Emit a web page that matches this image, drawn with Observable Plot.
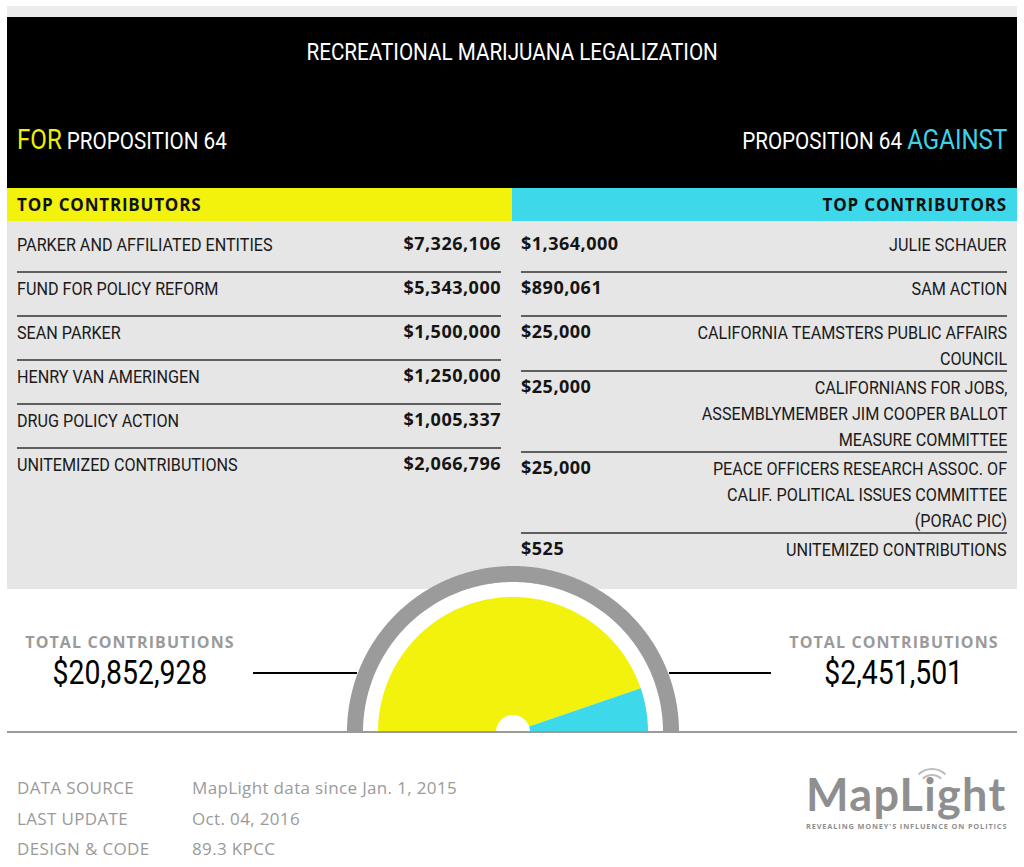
<!DOCTYPE html>
<html>
<head>
<meta charset="utf-8">
<script src="https://cdn.jsdelivr.net/npm/d3@7"></script>
<script src="https://cdn.jsdelivr.net/npm/@observablehq/plot@0.6"></script>
<style>
  html, body { margin: 0; padding: 0; background: #fff; }
  body { width: 1024px; height: 867px; overflow: hidden; position: relative; }
  .cond { font-family: "Roboto", sans-serif; }
  .sq { display: inline-block; transform: scaleX(0.86); white-space: nowrap; }
  .sqL { transform-origin: left center; }
  .sqR { transform-origin: right center; }
  .sqC { transform-origin: center center; }
  .geo { font-family: "Open Sans", "Lato", sans-serif; }
  #wrap { position: absolute; left: 7px; top: 6px; width: 1010px; height: 861px; }
  #strip { height: 11px; background: #ececec; }
  #header { position: relative; height: 171px; background: #000; color: #fff; }
  #title { position: absolute; left: 0; right: 0; top: 20px; line-height: 30px; text-align: center; font-size: 24px; }
  .prop { position: absolute; top: 106px; line-height: 34px; font-size: 24px; white-space: nowrap; }
  .prop .big { font-size: 28px; }
  #forHead { left: 10px; }
  #agHead { right: 10px; }
  #band { display: flex; height: 33px; }
  #band div { line-height: 33px; font-weight: 700; font-size: 17px; letter-spacing: 0.8px; color: #111; box-sizing: border-box; }
  #bandFor { width: 505px; background: #f2f20c; padding-left: 10px; }
  #bandAg { width: 505px; background: #3dd8ea; text-align: right; padding-right: 10px; }
  #tables { position: relative; height: 368px; background: #e6e6e6; display: flex; padding: 6px 10px 0 10px; box-sizing: border-box; }
  #leftT { width: 484px; }
  #rightT { width: 486px; margin-left: 20px; }
  .row { box-sizing: border-box; min-height: 44px; border-top: 2px solid #5e5e5e; padding-top: 1px; display: flex; justify-content: space-between; line-height: 26px; }
  .row:first-child { border-top-color: transparent; }
  .name { font-size: 18.8px; color: #1a1a1a; position: relative; top: 1.5px; }
  .val { font-weight: 700; font-size: 18px; letter-spacing: 0.5px; color: #141414; white-space: nowrap; }
  #rightT .name { text-align: right; }
  #gauge { position: absolute; left: 0; top: 554px; z-index: 2; }
  #baseline { position: absolute; left: 0; top: 725px; width: 1010px; height: 2px; background: #9a9a9a; z-index: 3; }
  .tot { position: absolute; top: 625px; width: 260px; text-align: center; }
  .tot .lab { font-weight: 700; font-size: 16px; color: #9a9a9a; line-height: 22px; letter-spacing: 1.1px; }
  .tot .num { font-size: 33px; color: #000; line-height: 40px; }
  #totFor { left: -7px; }
  #totAg { left: 757px; }
  .conn { position: absolute; top: 666px; height: 2px; background: #000; z-index: 1; }
  #footer { position: absolute; left: 10px; top: 769px; }
  .frow { display: flex; height: 30.5px; line-height: 26px; font-size: 17px; letter-spacing: 0.35px; color: #9a9a9a; }
  .frow .k { width: 175px; }
  #logo { position: absolute; left: 799px; top: 758px; width: 210px; color: #8f8f8f; }
  #logo .word { font-family: "Lato", "Open Sans", sans-serif; font-weight: 700; font-size: 45px; line-height: 60px; letter-spacing: 1.3px; }
  #logo .tag { font-family: "Open Sans", sans-serif; font-weight: 700; font-size: 7.4px; letter-spacing: 0.85px; line-height: 10px; white-space: nowrap; margin-top: -3px; }
  .wifi { position: absolute; border: 2.5px solid #bdbdbd; border-radius: 50%; border-bottom-color: transparent; border-left-color: transparent; border-right-color: transparent; }
</style>
</head>
<body>
<div id="wrap">
  <div id="strip"></div>
  <div id="header" class="cond">
    <div id="title"></div>
    <div id="forHead" class="prop"></div>
    <div id="agHead" class="prop"></div>
  </div>
  <div id="band" class="geo"><div id="bandFor"></div><div id="bandAg"></div></div>
  <div id="tables">
    <div id="leftT"></div>
    <div id="rightT"></div>
  </div>
  <div id="gauge"></div>
  <div id="baseline"></div>
  <div class="conn" style="left:246px;width:104px"></div>
  <div class="conn" style="left:662px;width:102px"></div>
  <div id="totFor" class="tot"><div class="lab geo"></div><div class="num cond"></div></div>
  <div id="totAg" class="tot"><div class="lab geo"></div><div class="num cond"></div></div>
  <div id="footer" class="geo"></div>
  <div id="logo">
    <div class="wifi" style="left:112px;top:10px;width:24px;height:24px"></div>
    <div class="wifi" style="left:106px;top:4px;width:36px;height:36px"></div>
    <div class="word">MapLight</div>
    <div class="tag">REVEALING MONEY'S INFLUENCE ON POLITICS</div>
  </div>
</div>
<script>
// ---- data ----
const titleText = "RECREATIONAL MARIJUANA LEGALIZATION";
const sides = ["FOR", "AGAINST"];
const propLabel = "PROPOSITION 64";
const bandLabel = "TOP CONTRIBUTORS";
const forNames = ["PARKER AND AFFILIATED ENTITIES", "FUND FOR POLICY REFORM", "SEAN PARKER", "HENRY VAN AMERINGEN", "DRUG POLICY ACTION", "UNITEMIZED CONTRIBUTIONS"];
const forValues = [7326106, 5343000, 1500000, 1250000, 1005337, 2066796];
const againstNames = [
  ["JULIE SCHAUER"],
  ["SAM ACTION"],
  ["CALIFORNIA TEAMSTERS PUBLIC AFFAIRS", "COUNCIL"],
  ["CALIFORNIANS FOR JOBS,", "ASSEMBLYMEMBER JIM COOPER BALLOT", "MEASURE COMMITTEE"],
  ["PEACE OFFICERS RESEARCH ASSOC. OF", "CALIF. POLITICAL ISSUES COMMITTEE", "(PORAC PIC)"],
  ["UNITEMIZED CONTRIBUTIONS"]
];
const againstValues = [1364000, 890061, 25000, 25000, 25000, 525];
const totalLabel = "TOTAL CONTRIBUTIONS";
const totals = [20852928, 2451501];
const footerKeys = ["DATA SOURCE", "LAST UPDATE", "DESIGN & CODE"];
const footerVals = ["MapLight data since Jan. 1, 2015", "Oct. 04, 2016", "89.3 KPCC"];

const fmt = v => "$" + d3.format(",")(v);
const sq = (html, o) => `<span class="sq sq${o}">${html}</span>`;

// ---- header & tables ----
document.getElementById("title").innerHTML = sq(titleText, "C");
document.getElementById("forHead").innerHTML = sq(`<span class="big" style="color:#eeee10">${sides[0]}</span> ${propLabel}`, "L");
document.getElementById("agHead").innerHTML = sq(`${propLabel} <span class="big" style="color:#3fd2e6">${sides[1]}</span>`, "R");
document.getElementById("bandFor").textContent = bandLabel;
document.getElementById("bandAg").textContent = bandLabel;

const leftT = document.getElementById("leftT");
forNames.forEach((n, i) => {
  leftT.insertAdjacentHTML("beforeend", `<div class="row"><div class="name cond">${sq(n, "L")}</div><div class="val geo">${fmt(forValues[i])}</div></div>`);
});
const rightT = document.getElementById("rightT");
againstNames.forEach((lines, i) => {
  rightT.insertAdjacentHTML("beforeend", `<div class="row"><div class="val geo">${fmt(againstValues[i])}</div><div class="name cond">${sq(lines.join("<br>"), "R")}</div></div>`);
});

document.querySelector("#totFor .lab").textContent = totalLabel;
document.querySelector("#totAg .lab").textContent = totalLabel;
document.querySelector("#totFor .num").innerHTML = sq(fmt(totals[0]), "C");
document.querySelector("#totAg .num").innerHTML = sq(fmt(totals[1]), "C");

const footer = document.getElementById("footer");
footerKeys.forEach((k, i) => {
  footer.insertAdjacentHTML("beforeend", `<div class="frow"><div class="k">${k}</div><div>${footerVals[i]}</div></div>`);
});

// ---- gauge (Plot) ----
const R_HOLE = 17, R_PIE = 135, R_RING_IN = 150, R_RING_OUT = 166;
const sum = d3.sum(totals);
const slices = [];
let start = Math.PI;
sides.forEach((s, i) => {
  const span = Math.PI * totals[i] / sum;
  const n = Math.max(2, Math.ceil(span / Math.PI * 360));
  for (let k = 0; k <= n; k++) slices.push({side: s, a: start - span * k / n});
  start -= span;
});
const half = d3.range(0, 361).map(k => ({a: Math.PI * k / 360}));

const polar = (r0, r1) => ({
  x1: d => r0 * Math.cos(d.a), y1: d => r0 * Math.sin(d.a),
  x2: d => r1 * Math.cos(d.a), y2: d => r1 * Math.sin(d.a)
});

const chart = Plot.plot({
  width: 1010, height: 175,
  margin: 0,
  x: {domain: [-506, 504], axis: null},
  y: {domain: [-3, 172], axis: null},
  color: {domain: sides, range: ["#f2f20c", "#3dd8ea"]},
  style: {background: "transparent", overflow: "visible"},
  marks: [
    Plot.area(half, {...polar(0, R_RING_IN), fill: "#ffffff"}),
    Plot.area(half, {...polar(R_RING_IN, R_RING_OUT), fill: "#9b9b9b"}),
    Plot.area(slices, {...polar(R_HOLE, R_PIE), z: "side", fill: "side"})
  ]
});
document.getElementById("gauge").appendChild(chart);
</script>
</body>
</html>
